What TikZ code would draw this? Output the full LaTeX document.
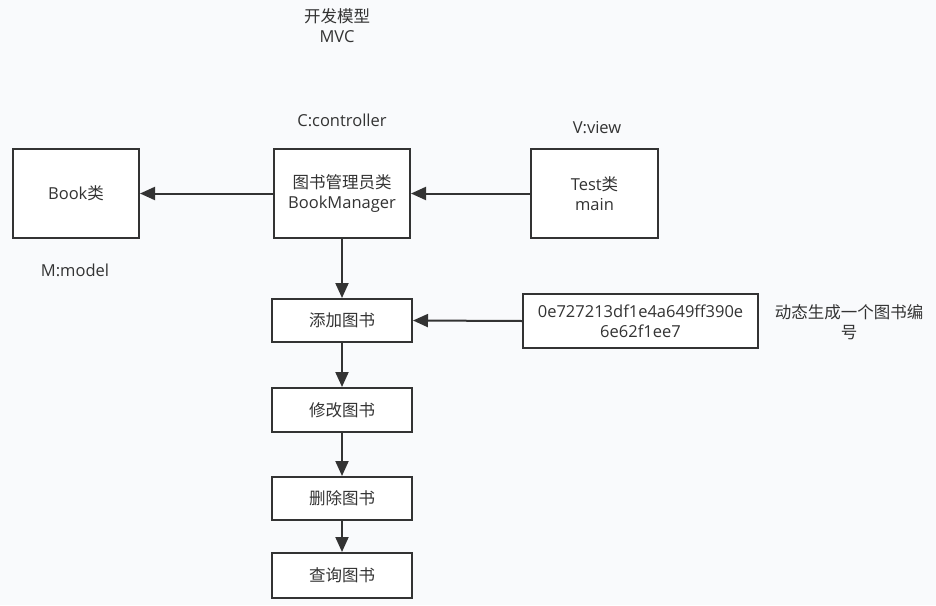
\documentclass[tikz,border=0pt]{standalone}
\usepackage{fontspec}
\setmainfont{Open Sans}
\newfontfamily\cjk{Noto Sans CJK SC}
\newcommand{\zh}[1]{{\cjk\fontsize{16.5}{20}\selectfont #1}}
\usetikzlibrary{arrows.meta}
\definecolor{bg}{HTML}{F9FAFC}
\definecolor{ink}{HTML}{333333}
\definecolor{txt}{HTML}{333333}
\begin{document}
\begin{tikzpicture}[x=1pt,y=-1pt,
  box/.style={draw=ink,fill=white,line width=2pt,inner sep=0pt,align=center,
    font=\fontsize{16.5}{20}\selectfont,text=txt},
  lbl/.style={inner sep=0pt,align=center,font=\fontsize{16.5}{20}\selectfont,text=txt},
  conn/.style={draw=ink,line width=2pt,-{Triangle[length=15pt,width=13pt]}}]
\fill[bg] (0,0) rectangle (936,605);
\useasboundingbox (0,0) rectangle (936,605);
\node[box,minimum width=126pt,minimum height=89pt] (book) at (76,193.5) {Book\zh{类}};
\node[box,minimum width=136pt,minimum height=89pt] (bm) at (342,193.5) {\zh{图书管理员类}\\BookManager};
\node[box,minimum width=127pt,minimum height=89pt] (test) at (594.5,193.5) {Test\zh{类}\\main};
\node[box,minimum width=140pt,minimum height=43pt] (add) at (342,320.5) {\zh{添加图书}};
\node[box,minimum width=235pt,minimum height=54pt] (hash) at (640.5,321) {0e727213df1e4a649ff390e\\6e62f1ee7};
\node[box,minimum width=140pt,minimum height=44pt] (mod) at (342,410) {\zh{修改图书}};
\node[box,minimum width=140pt,minimum height=43pt] (del) at (342,498.5) {\zh{删除图书}};
\node[box,minimum width=140pt,minimum height=45pt] (qry) at (342,575.5) {\zh{查询图书}};
\node[lbl] (title) at (337,26) {\zh{开发模型}\\MVC};
\node[lbl] (ctrl) at (342,120) {C:controller};
\node[lbl] (view) at (597,128) {V:view};
\node[lbl] (model) at (75,270) {M:model};
\node[lbl] (note) at (849,322) {\zh{动态生成一个图书编}\\\zh{号}};
\draw[conn] (bm.west) -- (book.east);
\draw[conn] (test.west) -- (bm.east);
\draw[conn] (bm.south) -- (add.north);
\draw[conn] (hash.west) -- (add.east);
\draw[conn] (add.south) -- (mod.north);
\draw[conn] (mod.south) -- (del.north);
\draw[conn] (del.south) -- (qry.north);
\end{tikzpicture}
\end{document}
